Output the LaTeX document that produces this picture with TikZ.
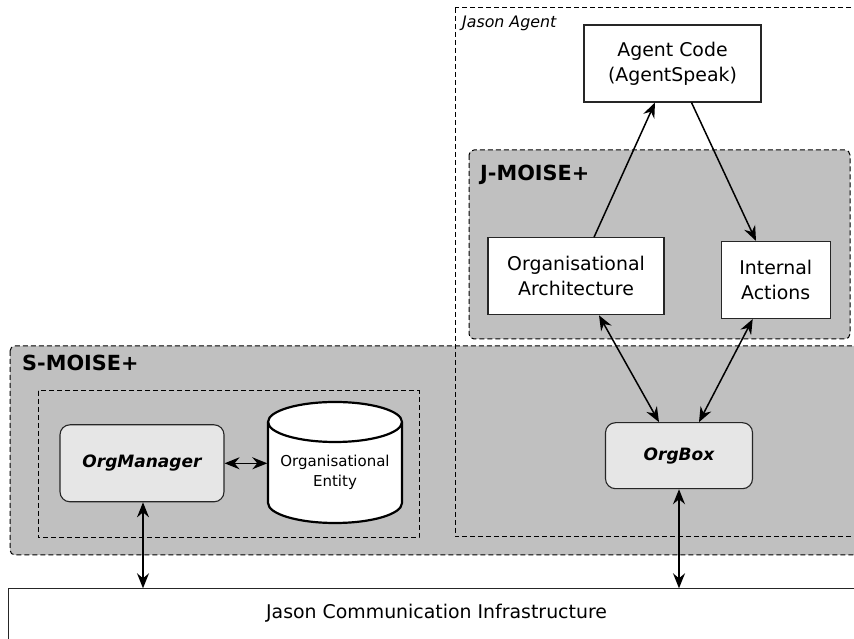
\documentclass[tikz,border=0pt]{standalone}
\usepackage{fontspec}
\setmainfont{DejaVu Sans}
\usetikzlibrary{arrows.meta}
\definecolor{grpgrey}{RGB}{192,192,192}
\definecolor{boxgrey}{RGB}{230,230,230}
\begin{document}
\begin{tikzpicture}[x=1pt,y=1pt,
  grp/.style={draw=black, fill=grpgrey, line width=1pt, dash pattern=on 5pt off 3pt, rounded corners=5pt},
  frame/.style={draw=black, line width=1pt, dash pattern=on 5pt off 3pt},
  plain/.style={draw=black!85, fill=white, line width=1.1pt, align=center, inner sep=0pt,
    font=\fontsize{18.9}{25}\selectfont},
  comp/.style={draw=black!85, fill=boxgrey, line width=1.1pt, rounded corners=10pt, inner sep=0pt,
    font=\fontsize{17}{20}\selectfont\bfseries\itshape},
  grplabel/.style={anchor=west, inner sep=0pt, font=\fontsize{20.8}{24}\selectfont\bfseries},
  conn/.style={line width=1.5pt, -{Stealth[length=15pt,width=12pt,inset=5pt]}},
  conn2/.style={line width=1.5pt, {Stealth[length=15pt,width=12pt,inset=5pt]}-{Stealth[length=15pt,width=12pt,inset=5pt]}}
]
\useasboundingbox (0,0) rectangle (854,639);
\clip (0,0) rectangle (854,639);
\fill[white] (0,0) rectangle (854,639);

% group boxes
\path[grp] (10,293) rectangle (880,84);
\path[grp] (469,489) rectangle (850,300);
\draw[frame] (455,631) rectangle (880,102);
\draw[frame] (38,248) rectangle (419,101);

\node[grplabel] (slab) at (22,275.7) {S-MOISE+};
\node[grplabel] (jlab) at (480,464) {J-MOISE+};
\node[anchor=west, inner sep=0pt, font=\fontsize{15.8}{18}\selectfont\itshape] (alab) at (462,615.7) {Jason Agent};

% nodes
\node[plain, minimum width=177, minimum height=77] (code) at (672.5,575.5) {Agent Code\\(AgentSpeak)};
\node[plain, minimum width=176, minimum height=77] (arch) at (576,362.7) {Organisational\\Architecture};
\node[plain, minimum width=109, minimum height=77] (act) at (775.7,359) {Internal\\Actions};
\node[comp, minimum width=147, minimum height=66] (orgbox) at (679,183.3) {OrgBox};
\node[comp, minimum width=164, minimum height=77] (om) at (142,175.7) {OrgManager};

% cylinder (organisational entity)
\draw[line width=2.2pt, fill=white] (268,217) arc[start angle=180,end angle=0,x radius=67,y radius=20]
  -- (402,136) arc[start angle=0,end angle=-180,x radius=67,y radius=20] -- cycle;
\draw[line width=2.2pt] (268,217) arc[start angle=180,end angle=360,x radius=67,y radius=20];
\node[align=center, inner sep=0pt, minimum width=135, font=\fontsize{15}{20}\selectfont] (ent) at (335,167) {Organisational\\Entity};

% communication infrastructure
\node[draw=black!85, line width=1.1pt, fill=white, anchor=north west, minimum width=856, minimum height=70,
  text depth=25pt, inner sep=0pt, font=\fontsize{18.9}{25}\selectfont] (comm) at (8,50.7) {Jason Communication Infrastructure};

% connectors
\draw[conn] ([xshift=18pt]arch.north) -- ([xshift=-17.5pt]code.south);
\draw[conn] ([xshift=19pt]code.south) -- ([xshift=-19.7pt]act.north);
\draw[conn2] ([xshift=23pt]arch.south) -- ([xshift=-20pt]orgbox.north);
\draw[conn2] ([xshift=-23pt]act.south) -- ([xshift=20pt]orgbox.north);
\draw[conn2] (orgbox.south) -- (orgbox.south |- comm.north);
\draw[conn2] ([xshift=1pt]om.south) -- ([xshift=1pt]om.south |- comm.north);
\draw[conn2] (om.east) -- (om.east -| ent.west);
\end{tikzpicture}
\end{document}
